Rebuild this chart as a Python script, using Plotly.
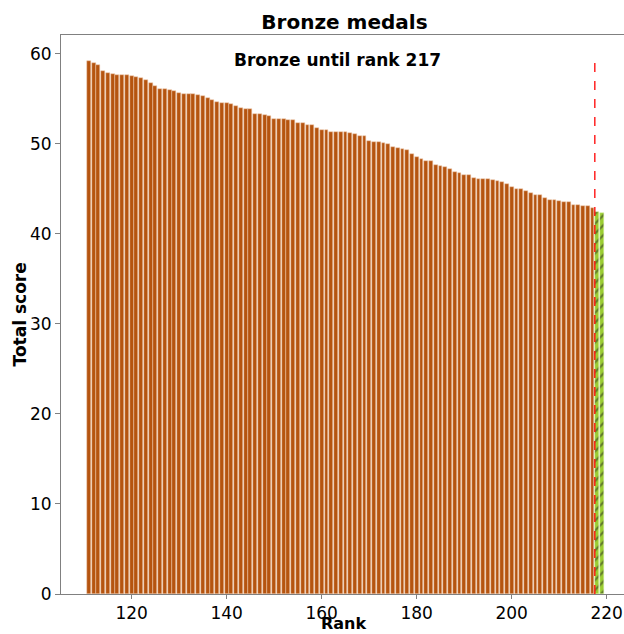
import plotly.graph_objects as go

# Total score per rank, bronze medal winners (ranks 111-217)
bronze_ranks = list(range(111, 218))
bronze_scores = [
    59.2, 59.0, 58.8, 58.15, 57.9, 57.8, 57.7, 57.7, 57.7, 57.6,
    57.45, 57.3, 57.15, 56.8, 56.45, 56.15, 56.15, 56.0, 55.85, 55.7,
    55.6, 55.55, 55.55, 55.44, 55.3, 55.07, 54.85, 54.63, 54.55, 54.55,
    54.4, 54.18, 54.0, 53.9, 53.9, 53.37, 53.3, 53.2, 53.07, 52.8,
    52.78, 52.78, 52.7, 52.7, 52.3, 52.3, 52.1, 52.1, 51.74, 51.5,
    51.5, 51.33, 51.33, 51.33, 51.33, 51.2, 51.07, 50.93, 50.85, 50.3,
    50.2, 50.18, 50.07, 49.96, 49.67, 49.52, 49.4, 49.3, 48.9, 48.55,
    48.33, 48.07, 48.07, 47.7, 47.52, 47.4, 47.26, 46.9, 46.8, 46.5,
    46.5, 46.26, 46.07, 46.07, 46.07, 46.0, 45.9, 45.78, 45.52, 45.18,
    44.96, 44.96, 44.74, 44.52, 44.37, 44.37, 43.96, 43.78, 43.78, 43.7,
    43.6, 43.6, 43.26, 43.2, 43.15, 43.1, 42.9,
]

# First ranks below the bronze cutoff
other_ranks = [218, 219]
other_scores = [42.4, 42.3]

cutoff_rank = 217
x_ticks = [120, 140, 160, 180, 200, 220]
y_ticks = [0, 10, 20, 30, 40, 50, 60]

FONT = "DejaVu Sans"
TICK_SIZE = 17

fig = go.Figure()
fig.add_trace(go.Bar(
    x=bronze_ranks, y=bronze_scores, width=0.82,
    marker=dict(color="#b5540f", line=dict(color="#f0cdb0", width=0.5)),
    showlegend=False,
))
fig.add_trace(go.Bar(
    x=other_ranks, y=other_scores, width=0.82,
    marker=dict(
        color="#9acd32",
        line=dict(color="#d8f0a0", width=0.5),
        pattern=dict(shape="/", fgcolor="#222222", bgcolor="#9acd32",
                     size=7, solidity=0.3),
    ),
    showlegend=False,
))

# Cutoff marker between last bronze rank and the next one
fig.add_shape(
    type="line", xref="x", yref="y",
    x0=cutoff_rank + 0.5, x1=cutoff_rank + 0.5,
    y0=0, y1=max(bronze_scores),
    line=dict(color="#ff0000", width=1.3, dash="dash"),
)

fig.add_annotation(
    text=f"<b>Bronze until rank {cutoff_rank}</b>",
    xref="paper", yref="paper", x=0.492, y=0.955,
    xanchor="center", yanchor="middle", showarrow=False,
    font=dict(family=FONT, size=17, color="black"),
)

# Axis titles
fig.add_annotation(
    text="<b>Rank</b>", xref="paper", yref="paper", x=0.503, y=-40.0 / 559,
    xanchor="center", yanchor="bottom", showarrow=False, borderpad=0,
    font=dict(family=FONT, size=16, color="black"),
)
fig.add_annotation(
    text="<b>Total score</b>", xref="paper", yref="paper", x=-0.073, y=0.5,
    xanchor="center", yanchor="middle", showarrow=False, textangle=-90,
    font=dict(family=FONT, size=17, color="black"),
)

fig.update_layout(
    width=624, height=634,
    margin=dict(l=61, r=0, t=35, b=40),
    paper_bgcolor="white", plot_bgcolor="white",
    bargap=0,
    title=dict(text="<b>Bronze medals</b>", x=0.552, xanchor="center",
               y=0.965, yanchor="middle",
               font=dict(family=FONT, size=20, color="black")),
    font=dict(family=FONT, size=TICK_SIZE, color="black"),
)

fig.update_xaxes(
    range=[105.12, 223.64], tickvals=x_ticks,
    showgrid=False, zeroline=False,
    showline=True, linecolor="#808080", linewidth=1, mirror=True,
    ticks="outside", ticklen=4, tickcolor="#808080",
    tickfont=dict(family=FONT, size=TICK_SIZE),
)
fig.update_yaxes(
    range=[0, 62.1], tickvals=y_ticks,
    showgrid=False, zeroline=False,
    showline=True, linecolor="#808080", linewidth=1, mirror=False,
    ticks="outside", ticklen=5, tickcolor="#808080",
    tickfont=dict(family=FONT, size=TICK_SIZE),
)

fig.write_html("out.html")
